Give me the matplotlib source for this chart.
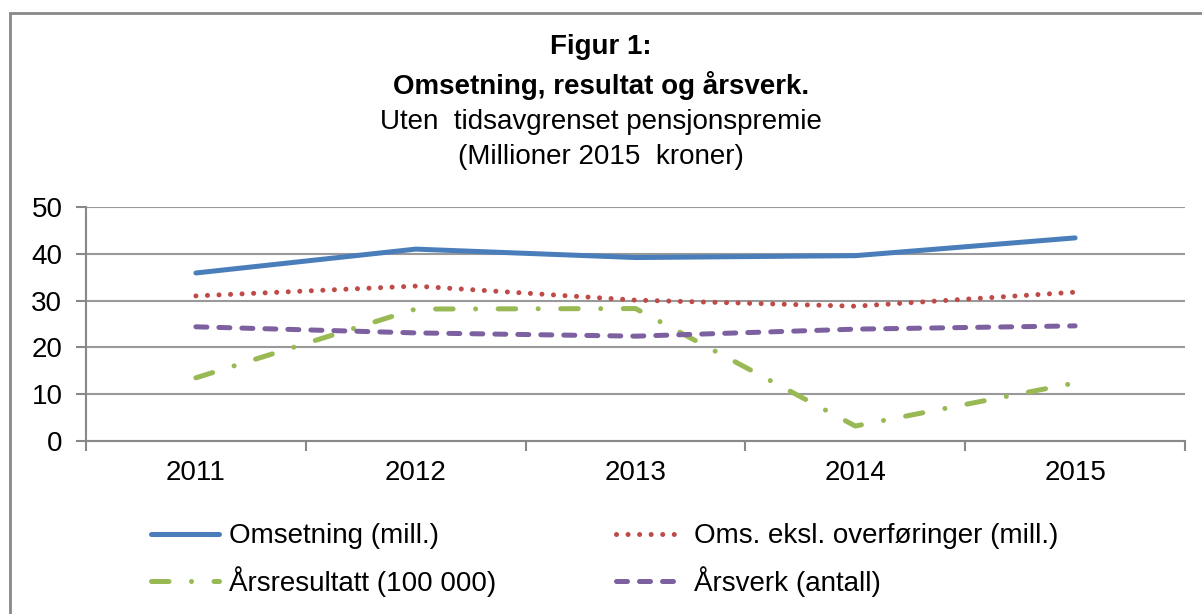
import matplotlib.pyplot as plt
from matplotlib.patches import Rectangle

years = ["2011", "2012", "2013", "2014", "2015"]
omsetning = [35.9, 41.0, 39.2, 39.6, 43.4]
oms_eksl = [31.0, 33.1, 30.1, 28.8, 31.8]
arsresultat = [13.5, 28.2, 28.3, 3.2, 12.4]
arsverk = [24.4, 23.1, 22.4, 23.9, 24.6]

plt.rcParams['font.family'] = ['Liberation Sans', 'DejaVu Sans']
fs = 20

fig = plt.figure(figsize=(12.02, 6.14), dpi=100)
ax = fig.add_axes([86 / 1202, 1 - 441 / 614, (1185 - 86) / 1202, (441 - 207) / 614])

# outer frame (cut off at right and bottom like the reference)
fig.patches.append(Rectangle((10 / 1202, -0.05), 1.1, 1 - 13 / 614 + 0.05,
                             transform=fig.transFigure, fill=False,
                             edgecolor='#888888', linewidth=2, zorder=0))

x = range(len(years))
lw = 3.6
l1, = ax.plot(x, omsetning, color='#4A7EBB', lw=lw, solid_capstyle='round',
              label='Omsetning (mill.)')
l2, = ax.plot(x, oms_eksl, color='#BE4B48', lw=lw, ls=(0, (0.01, 2.3)),
              dash_capstyle='round', label='Oms. eksl. overføringer (mill.)')
l3, = ax.plot(x, arsresultat, color='#98B954', lw=lw, ls=(0, (3.5, 4.5, 0.01, 4.5)),
              dash_capstyle='round', label='Årsresultatt (100 000)')
l4, = ax.plot(x, arsverk, color='#7D60A0', lw=lw, ls=(0, (2.2, 2.4)),
              dash_capstyle='round', label='Årsverk (antall)')

ax.set_xlim(-0.5, 4.5)
ax.set_ylim(0, 50)
ax.set_yticks(range(0, 51, 10))
ax.set_xticks(list(x))
ax.set_xticklabels(years)
ax.set_xticks([i - 0.5 for i in range(6)], minor=True)
ax.tick_params(axis='x', which='major', length=0, labelsize=fs, pad=14)
ax.tick_params(axis='x', which='minor', length=7, width=1.5, color='#888888')
ax.tick_params(axis='y', length=7, width=1.5, color='#888888', labelsize=fs, pad=10)
ax.yaxis.grid(True, color='#999999', linewidth=1.5)
ax.set_axisbelow(True)
for s in ['top', 'right']:
    ax.spines[s].set_visible(False)
for s in ['left', 'bottom']:
    ax.spines[s].set_color('#888888')
    ax.spines[s].set_linewidth(1.5)

# titles
fig.text(0.5, 1 - 47 / 614, 'Figur 1:', ha='center', va='center', fontsize=fs, fontweight='bold')
fig.text(0.5, 1 - 85 / 614, 'Omsetning, resultat og årsverk.', ha='center', va='center',
         fontsize=fs, fontweight='bold')
fig.text(0.5, 1 - 122 / 614, 'Uten  tidsavgrenset pensjonspremie', ha='center', va='center',
         fontsize=fs)
fig.text(0.5, 1 - 157 / 614, '(Millioner 2015  kroner)', ha='center', va='center', fontsize=fs)

fig.legend([l1, l3, l2, l4], [l.get_label() for l in [l1, l3, l2, l4]],
           loc='center', bbox_to_anchor=(605 / 1202, 1 - 560 / 614), ncol=2,
           frameon=False, fontsize=fs, handlelength=2.45, columnspacing=4.3,
           labelspacing=0.6, handletextpad=0.36, borderpad=0)

fig.savefig('out.png', dpi=100)
